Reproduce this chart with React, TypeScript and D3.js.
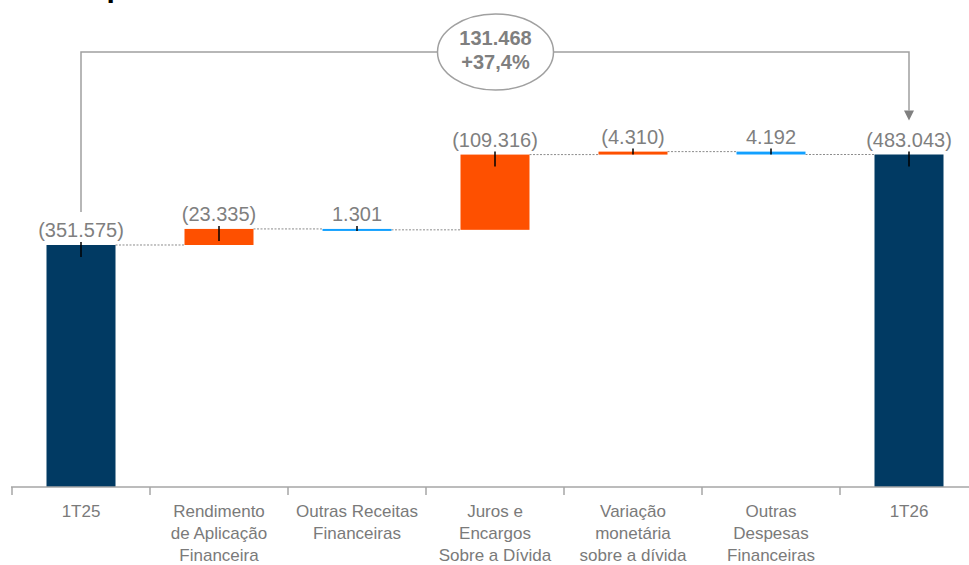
import React from 'react';
import * as d3 from 'd3';

const categories = [
  '1T25',
  'Rendimento de Aplicação Financeira',
  'Outras Receitas Financeiras',
  'Juros e Encargos Sobre a Dívida',
  'Variação monetária sobre a dívida',
  'Outras Despesas Financeiras',
  '1T26',
];
const categoryLines = [
  ['1T25'],
  ['Rendimento', 'de Aplicação', 'Financeira'],
  ['Outras Receitas', 'Financeiras'],
  ['Juros e', 'Encargos', 'Sobre a Dívida'],
  ['Variação', 'monetária', 'sobre a dívida'],
  ['Outras', 'Despesas', 'Financeiras'],
  ['1T26'],
];
// totals are absolute, steps are deltas (positive = more expense)
const kinds = ['total', 'step', 'step', 'step', 'step', 'step', 'total'];
const values = [351.575, 23.335, -1.301, 109.316, 4.31, -4.192, 483.043];
const valueLabels = ['(351.575)', '(23.335)', '1.301', '(109.316)', '(4.310)', '4.192', '(483.043)'];
const changeLabel = '131.468';
const changePct = '+37,4%';

const W = 969;
const H = 565;
const NAVY = '#013a63';
const ORANGE = '#fe5000';
const BLUE = '#12a0ff';
const GREY = '#7f7f7f';

export default function App() {
  const x = d3.scaleBand<string>().domain(categories).range([12, 978]).paddingInner(0.5).paddingOuter(0.25);
  const y = d3.scaleLinear().domain([0, 483.043]).range([487, 154.5]);
  const step = x.step();
  const bw = x.bandwidth();

  // cumulative levels
  let run = 0;
  const bars = categories.map((c, i) => {
    let start: number, end: number;
    if (kinds[i] === 'total') {
      start = 0;
      end = values[i];
      run = values[i];
    } else {
      start = run;
      end = run + values[i];
      run = end;
    }
    const top = y(Math.max(start, end));
    const bottom = y(Math.min(start, end));
    const h = Math.max(bottom - top, 2);
    const color = kinds[i] === 'total' ? NAVY : values[i] > 0 ? ORANGE : BLUE;
    return { c, i, start, end, top, h, color, x0: x(c)!, cx: x(c)! + bw / 2 };
  });

  const first = bars[0];
  const last = bars[bars.length - 1];
  const bracketY = 52;
  const mid = (first.cx + last.cx) / 2 + 0.5;

  return (
    <svg width={W} height={H} style={{ position: 'absolute', left: 0, top: 0 }} fontFamily="'Liberation Sans', Arial, sans-serif">
      <rect width={W} height={H} fill="#fff" />
      <text x={8} y={-3} fontSize={30} fontWeight="bold" fill="#000">Desempenho</text>

      {/* bracket */}
      <path
        d={`M${first.cx},${first.top - 33} V${bracketY} H${last.cx} V${last.top - 44}`}
        fill="none" stroke="#a0a0a0" strokeWidth={1.5}
      />
      <path d={`M${last.cx - 5},${last.top - 44} L${last.cx + 5},${last.top - 44} L${last.cx},${last.top - 34} Z`} fill="#808080" />
      <ellipse cx={mid} cy={bracketY} rx={58} ry={38} fill="#fff" stroke="#a0a0a0" strokeWidth={1.5} />
      <text x={mid} y={45} textAnchor="middle" fontSize={20} fontWeight="bold" fill={GREY}>{changeLabel}</text>
      <text x={mid} y={69} textAnchor="middle" fontSize={20} fontWeight="bold" fill={GREY}>{changePct}</text>

      {/* connectors */}
      {bars.slice(0, -1).map((b, i) => {
        const nx = bars[i + 1];
        const yy = y(b.end);
        return (
          <line key={'c' + i} x1={b.x0 + bw} x2={nx.x0} y1={yy} y2={yy} stroke="#8c8c8c" strokeWidth={1} strokeDasharray="2,1.5" />
        );
      })}

      {bars.map((b) => (
        <g key={b.c}>
          <rect x={b.x0} y={b.top} width={bw} height={b.h} fill={b.color} />
          <line x1={b.cx} x2={b.cx} y1={b.top - 3} y2={Math.min(b.top + 12, b.top + b.h)} stroke="#000" strokeWidth={1.5} />
          <text x={b.cx} y={b.top - 8} textAnchor="middle" fontSize={20} fill={GREY}>{valueLabels[b.i]}</text>
        </g>
      ))}

      {/* axis */}
      <line x1={11} x2={W} y1={487} y2={487} stroke="#a6a6a6" strokeWidth={1.5} />
      {d3.range(categories.length + 1).map((i) => {
        const tx = 12 + i * step;
        return <line key={'t' + i} x1={tx} x2={tx} y1={487} y2={495} stroke="#a6a6a6" strokeWidth={1.5} />;
      })}
      {bars.map((b) => (
        <text key={'l' + b.c} x={b.cx} textAnchor="middle" fontSize={17} fill="#7a7a7a">
          {categoryLines[b.i].map((ln, k) => (
            <tspan key={k} x={b.cx} y={517 + k * 22}>{ln}</tspan>
          ))}
        </text>
      ))}
    </svg>
  );
}
